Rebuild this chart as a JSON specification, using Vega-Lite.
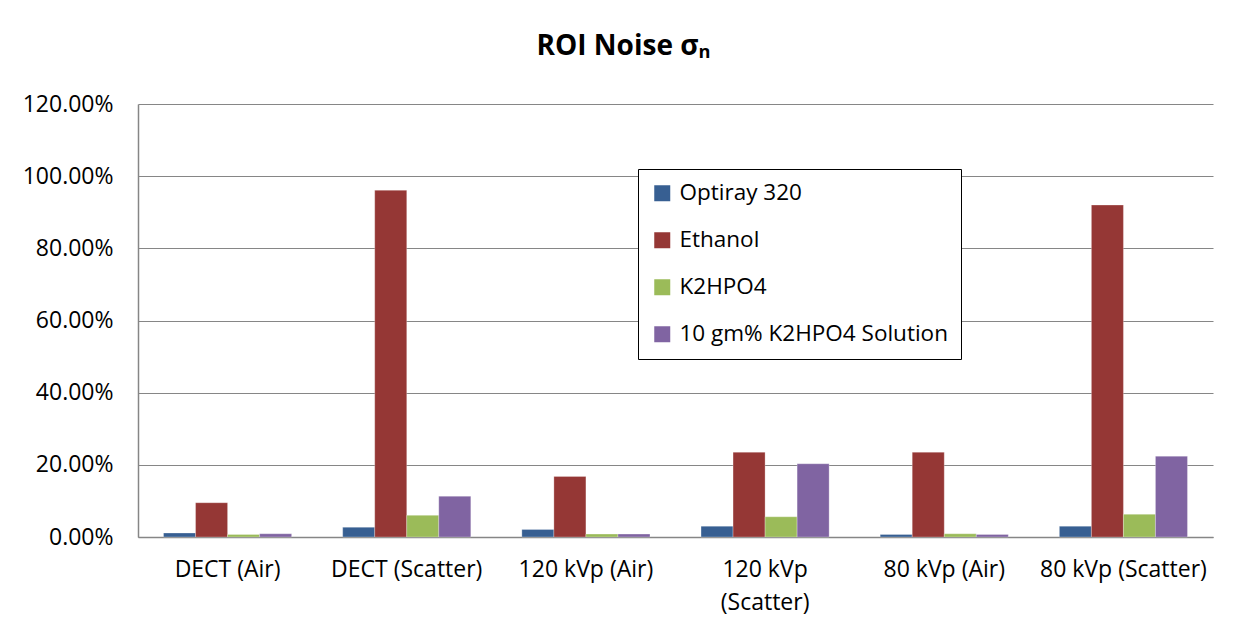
{
  "$schema": "https://vega.github.io/schema/vega-lite/v6.json",
  "autosize": {"type": "none"},
  "width": 1075,
  "height": 433,
  "padding": {"left": 138, "top": 104, "right": 28, "bottom": 95},
  "background": "white",
  "title": {
    "text": "ROI Noise σₙ",
    "font": "Open Sans",
    "fontSize": 28,
    "fontWeight": "bold",
    "color": "black",
    "anchor": "middle",
    "frame": "group",
    "dx": -52,
    "offset": 32
  },
  "data": {
    "values": [
      {"group": "DECT (Air)", "material": "Optiray 320", "value": 0.011},
      {"group": "DECT (Air)", "material": "Ethanol", "value": 0.095},
      {"group": "DECT (Air)", "material": "K2HPO4", "value": 0.007},
      {"group": "DECT (Air)", "material": "10 gm% K2HPO4 Solution", "value": 0.009},
      {"group": "DECT (Scatter)", "material": "Optiray 320", "value": 0.027},
      {"group": "DECT (Scatter)", "material": "Ethanol", "value": 0.961},
      {"group": "DECT (Scatter)", "material": "K2HPO4", "value": 0.060},
      {"group": "DECT (Scatter)", "material": "10 gm% K2HPO4 Solution", "value": 0.113},
      {"group": "120 kVp (Air)", "material": "Optiray 320", "value": 0.021},
      {"group": "120 kVp (Air)", "material": "Ethanol", "value": 0.168},
      {"group": "120 kVp (Air)", "material": "K2HPO4", "value": 0.008},
      {"group": "120 kVp (Air)", "material": "10 gm% K2HPO4 Solution", "value": 0.008},
      {"group": "120 kVp (Scatter)", "material": "Optiray 320", "value": 0.030},
      {"group": "120 kVp (Scatter)", "material": "Ethanol", "value": 0.235},
      {"group": "120 kVp (Scatter)", "material": "K2HPO4", "value": 0.056},
      {"group": "120 kVp (Scatter)", "material": "10 gm% K2HPO4 Solution", "value": 0.203},
      {"group": "80 kVp (Air)", "material": "Optiray 320", "value": 0.007},
      {"group": "80 kVp (Air)", "material": "Ethanol", "value": 0.235},
      {"group": "80 kVp (Air)", "material": "K2HPO4", "value": 0.009},
      {"group": "80 kVp (Air)", "material": "10 gm% K2HPO4 Solution", "value": 0.007},
      {"group": "80 kVp (Scatter)", "material": "Optiray 320", "value": 0.030},
      {"group": "80 kVp (Scatter)", "material": "Ethanol", "value": 0.920},
      {"group": "80 kVp (Scatter)", "material": "K2HPO4", "value": 0.063},
      {"group": "80 kVp (Scatter)", "material": "10 gm% K2HPO4 Solution", "value": 0.224}
    ]
  },
  "mark": {"type": "bar", "stroke": "white", "strokeOpacity": 0.35, "strokeWidth": 0.8},
  "encoding": {
    "x": {
      "field": "group",
      "type": "nominal",
      "sort": ["DECT (Air)", "DECT (Scatter)", "120 kVp (Air)", "120 kVp (Scatter)", "80 kVp (Air)", "80 kVp (Scatter)"],
      "scale": {"paddingInner": 0.285, "paddingOuter": 0.1425},
      "axis": {
        "title": null,
        "labelAngle": 0,
        "labelFont": "Open Sans",
        "labelFontSize": 23,
        "labelColor": "black",
        "labelPadding": 21,
        "labelLineHeight": 33,
        "labelExpr": "datum.label == '120 kVp (Scatter)' ? ['120 kVp', '(Scatter)'] : datum.label",
        "ticks": false,
        "domainColor": "#868686",
        "domainWidth": 1.5,
        "grid": false
      }
    },
    "xOffset": {
      "field": "material",
      "type": "nominal",
      "sort": ["Optiray 320", "Ethanol", "K2HPO4", "10 gm% K2HPO4 Solution"],
      "scale": {"paddingInner": 0, "paddingOuter": 0}
    },
    "y": {
      "field": "value",
      "type": "quantitative",
      "scale": {"domain": [0, 1.2], "nice": false},
      "axis": {
        "title": null,
        "format": ".2%",
        "values": [0, 0.2, 0.4, 0.6, 0.8, 1.0, 1.2],
        "labelFont": "Open Sans",
        "labelFontSize": 23,
        "labelColor": "black",
        "labelPadding": 25,
        "ticks": false,
        "domainColor": "#868686",
        "domainWidth": 1.5,
        "gridColor": "#868686",
        "gridWidth": 1.2
      }
    },
    "color": {
      "field": "material",
      "type": "nominal",
      "sort": ["Optiray 320", "Ethanol", "K2HPO4", "10 gm% K2HPO4 Solution"],
      "scale": {
        "domain": ["Optiray 320", "Ethanol", "K2HPO4", "10 gm% K2HPO4 Solution"],
        "range": ["#375F92", "#953735", "#9BBB59", "#8064A2"]
      },
      "legend": {
        "title": null,
        "orient": "none",
        "legendX": 500,
        "legendY": 65,
        "symbolType": "square",
        "symbolSize": 256,
        "symbolStrokeWidth": 0,
        "labelFont": "Open Sans",
        "labelFontSize": 22.5,
        "labelColor": "black",
        "labelOffset": 6,
        "labelLimit": 400,
        "rowPadding": 24,
        "padding": 13,
        "strokeColor": "black",
        "fillColor": "white"
      }
    }
  },
  "config": {
    "view": {"stroke": null},
    "axis": {"gridColor": "#868686"}
  }
}
